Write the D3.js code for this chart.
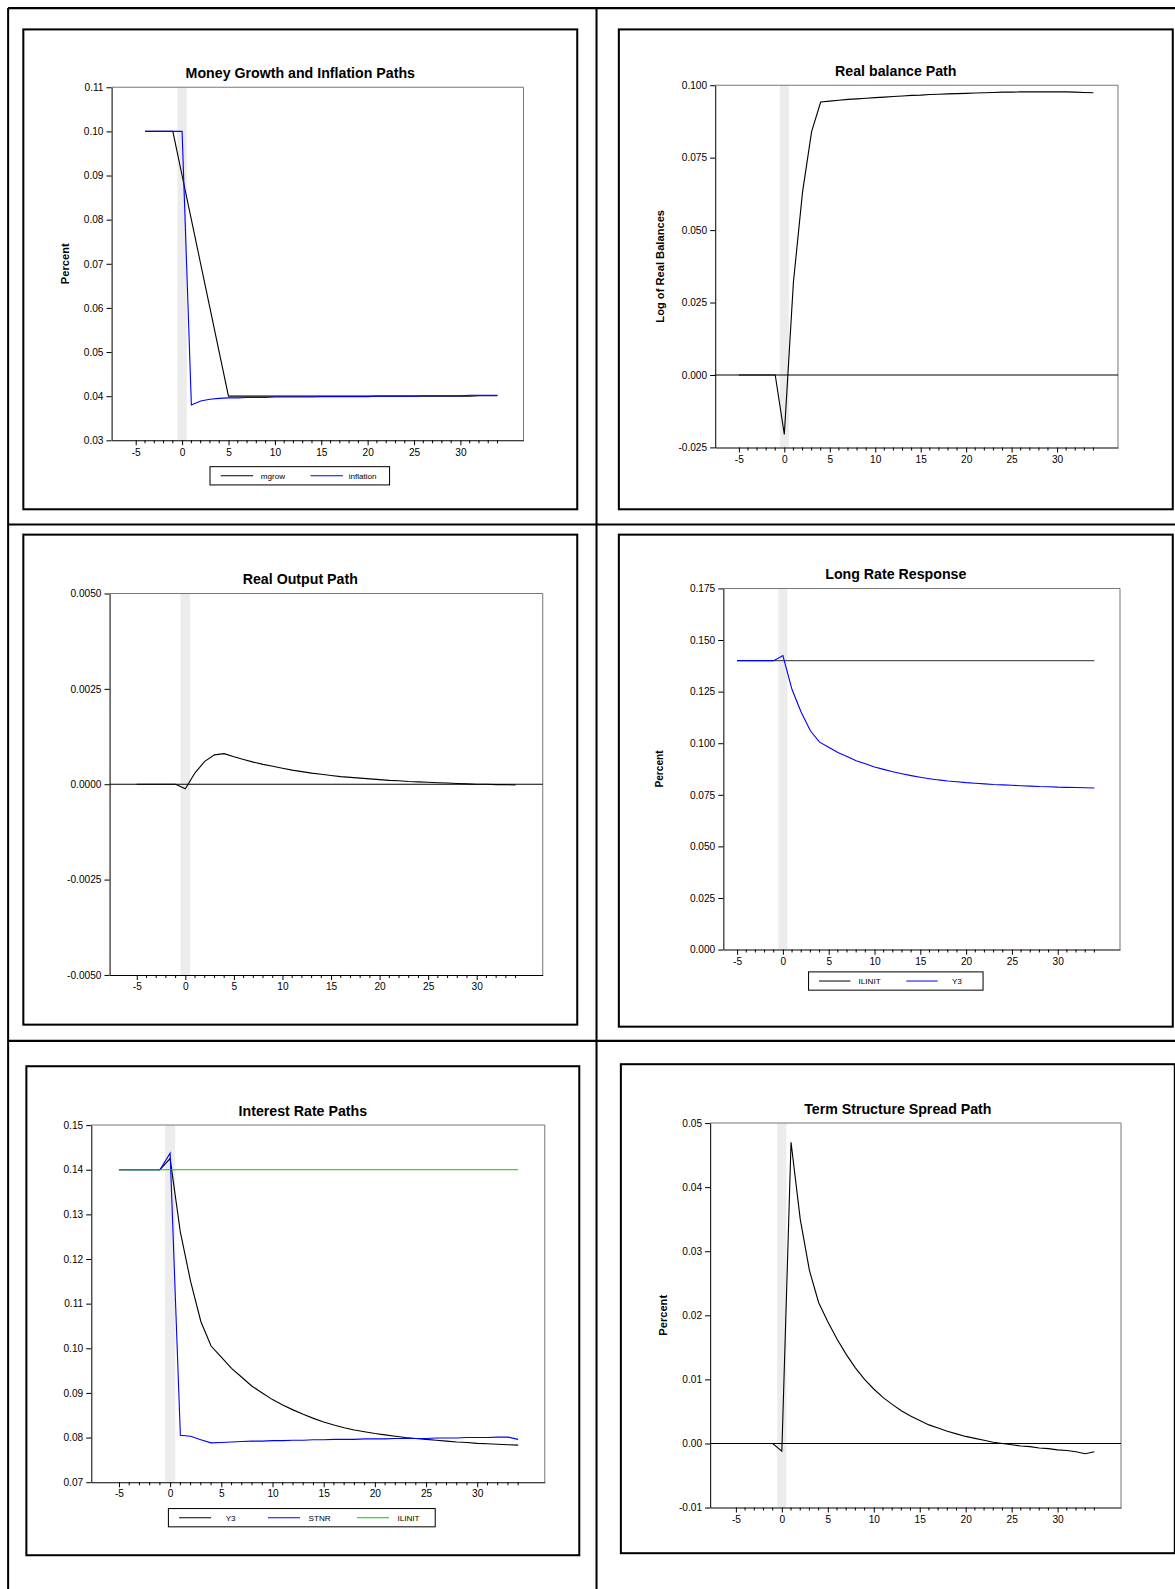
<!DOCTYPE html>
<html><head><meta charset="utf-8">
<script src="https://cdn.jsdelivr.net/npm/d3@7"></script>
<style>body{margin:0;background:#fff}text{font-family:"Liberation Sans",Arial,sans-serif}</style>
</head><body><svg id="c" width="1175" height="1589"></svg>
<script>
const tFull = d3.range(-5, 35);
const t4 = d3.range(-4, 35);
// Panel 1 (t = -4..34)
const mgrow = [0.10,0.10,0.10,0.10,0.09,0.08,0.07,0.06,0.05,0.04,0.04,0.04,0.04,0.04,0.04,0.04,0.04,0.04,0.04,0.04,0.04,0.04,0.04,0.04,0.04,0.04,0.04,0.04,0.04,0.04,0.04,0.04,0.04,0.04,0.04,0.04,0.0401,0.0401,0.0401];
const inflation = [0.10,0.10,0.10,0.10,0.10,0.0380,0.0389,0.0393,0.0395,0.0396,0.0396,0.0397,0.0397,0.0397,0.0398,0.0398,0.0398,0.0398,0.0398,0.0399,0.0399,0.0399,0.0399,0.0399,0.0399,0.0400,0.0400,0.0400,0.0400,0.0400,0.0401,0.0401,0.0401,0.0401,0.0401,0.0402,0.0402,0.0402,0.0402];
// Panel 2 (t = -5..34)
const realBal = [0,0,0,0,0,-0.0205,0.032,0.063,0.084,0.0942,0.0945,0.0948,0.0951,0.0953,0.0955,0.0957,0.0959,0.0961,0.0963,0.0965,0.0966,0.0968,0.0969,0.0970,0.0971,0.0972,0.0973,0.0974,0.0975,0.0976,0.0976,0.0977,0.0977,0.0977,0.0977,0.0977,0.0977,0.0976,0.0975,0.0974];
// Panel 3
const output = [0,0,0,0,0,-0.00012,0.0003,0.0006,0.00077,0.0008,0.00072,0.00065,0.00058,0.00052,0.00047,0.00042,0.00037,0.00033,0.00029,0.00026,0.00023,0.0002,0.00018,0.00016,0.00014,0.00012,0.0001,0.00009,0.00007,0.00006,0.00005,0.00004,0.00003,0.00002,0.00001,0,0,-0.00001,-0.00001,-0.00002];
// Panels 4/5
const ilinit = tFull.map(() => 0.14);
const y3 = [0.14,0.14,0.14,0.14,0.14,0.1425,0.126,0.115,0.106,0.1005,0.098,0.0955,0.0935,0.0915,0.0900,0.0885,0.0873,0.0862,0.0852,0.0843,0.0835,0.0828,0.0822,0.0817,0.0813,0.0809,0.0806,0.0803,0.0800,0.0798,0.0796,0.0794,0.0792,0.0790,0.0789,0.0787,0.0786,0.0785,0.0784,0.0783];
const stnr = [0.14,0.14,0.14,0.14,0.14,0.1437,0.0805,0.0803,0.0795,0.0788,0.0789,0.0790,0.0791,0.0792,0.0792,0.0793,0.0793,0.0794,0.0794,0.0795,0.0795,0.0796,0.0796,0.0796,0.0797,0.0797,0.0797,0.0798,0.0798,0.0798,0.0798,0.0799,0.0799,0.0799,0.0800,0.0800,0.0800,0.0801,0.0801,0.0796];
// Panel 6
const spread = [0,0,0,0,0,-0.0012,0.047,0.035,0.027,0.022,0.019,0.0163,0.0139,0.0118,0.0100,0.0085,0.0072,0.0061,0.0051,0.0043,0.0036,0.0029,0.0024,0.0019,0.0015,0.0011,0.0008,0.0005,0.0002,0.0000,-0.0002,-0.0004,-0.0005,-0.0007,-0.0008,-0.0010,-0.0011,-0.0013,-0.0016,-0.0013];
const xTicks = [-5,0,5,10,15,20,25,30];

const svg = d3.select("#c").append("g").attr("transform","scale(1.0145)");
[[8,8,8,1589],[588,8,588,1589],[1160,8,1160,1589],[8,8,1160,8],[8,517,1160,517],[8,1026,1160,1026]].forEach(l=>
  svg.append("line").attr("x1",l[0]).attr("y1",l[1]).attr("x2",l[2]).attr("y2",l[3]).attr("stroke","#000").attr("stroke-width",2));

const hy = f => (v => f(v).replace("−","-"));
function panel(o){
  svg.append("rect").attr("x",o.box[0]).attr("y",o.box[1]).attr("width",o.box[2]-o.box[0]).attr("height",o.box[3]-o.box[1])
    .attr("fill","none").attr("stroke","#000").attr("stroke-width",2);
  const [L,T,R,B]=o.plot;
  const x=d3.scaleLinear().domain(o.xd).range([L,R]);
  const y=d3.scaleLinear().domain(o.yd).range([B,T]);
  const g=svg.append("g");
  g.append("rect").attr("x",x(-0.5)).attr("y",T).attr("width",x(0.5)-x(-0.5)).attr("height",B-T).attr("fill","#ececec");
  g.append("line").attr("x1",L).attr("x2",R).attr("y1",T).attr("y2",T).attr("stroke","#777");
  g.append("line").attr("x1",R).attr("x2",R).attr("y1",T).attr("y2",B).attr("stroke","#777");
  if(o.zero) g.append("line").attr("x1",L).attr("x2",R).attr("y1",y(0)).attr("y2",y(0)).attr("stroke","#000");
  o.series.forEach(s=>{
    g.append("path").datum(s.v).attr("fill","none").attr("stroke",s.c).attr("stroke-width",1.1)
      .attr("d",d3.line().x((d,i)=>x(s.t[i])).y(d=>y(d)));
  });
  const ya=d3.axisLeft(y).tickValues(o.yt).tickFormat(hy(d3.format(o.yf))).tickSize(5).tickSizeOuter(0);
  g.append("g").attr("transform",`translate(${L},0)`).call(ya).call(a=>{a.select(".domain").attr("stroke","#000");a.selectAll("text").attr("font-size",10).attr("fill","#000");});
  const xa=d3.axisBottom(x).tickValues(xTicks).tickFormat(hy(d3.format("d"))).tickSize(5).tickSizeOuter(0);
  g.append("g").attr("transform",`translate(0,${B})`).call(xa).call(a=>{a.selectAll("text").attr("font-size",10).attr("fill","#000");});
  d3.range(-5,35).filter(v=>v%5!==0).forEach(v=>g.append("line").attr("x1",x(v)).attr("x2",x(v)).attr("y1",B).attr("y2",B+3).attr("stroke","#000"));
  svg.append("text").attr("x",(o.box[0]+o.box[2])/2+o.tdx).attr("y",T-9).attr("text-anchor","middle").attr("font-weight","bold").attr("font-size",14).text(o.title);
  if(o.ylab) svg.append("text").attr("transform",`translate(${o.ylabX},${(T+B)/2}) rotate(-90)`).attr("text-anchor","middle").attr("font-weight","bold").attr("font-size",o.ylabSize||11).text(o.ylab);
  if(o.legend){
    const [lx,ly,lw]=o.legend; const lh=18;
    svg.append("rect").attr("x",lx).attr("y",ly).attr("width",lw).attr("height",lh).attr("fill","#fff").attr("stroke","#000");
    const n=o.series.length, seg=lw/n;
    o.series.forEach((s,i)=>{
      const sx=lx+i*seg;
      svg.append("line").attr("x1",sx+seg*0.12).attr("x2",sx+seg*0.48).attr("y1",ly+lh/2).attr("y2",ly+lh/2).attr("stroke",s.lc||s.c);
      svg.append("text").attr("x",sx+seg*0.7).attr("y",ly+lh/2+3).attr("text-anchor","middle").attr("font-size",8).text(s.n);
    });
  }
}
panel({box:[23,29,569,502],tdx:0,plot:[110,86,516,434],xd:[-7.6,36.8],yd:[0.03,0.11],yt:[0.03,0.04,0.05,0.06,0.07,0.08,0.09,0.10,0.11],yf:".2f",
  title:"Money Growth and Inflation Paths",ylab:"Percent",ylabX:68,legend:[207,460,177],
  series:[{t:t4,v:mgrow,c:"#000",n:"mgrow"},{t:t4,v:inflation,c:"#0000ff",n:"inflation"}]});
panel({box:[610,29,1156,502],tdx:0,plot:[705,84,1102,441],xd:[-7.6,36.7],yd:[-0.025,0.1],yt:[-0.025,0,0.025,0.05,0.075,0.1],yf:".3f",
  title:"Real balance Path",ylab:"Log of Real Balances",ylabX:655,zero:true,
  series:[{t:tFull,v:realBal,c:"#000"}]});
panel({box:[23,527,569,1010],tdx:0,plot:[108,585,535,961],xd:[-7.8,36.8],yd:[-0.005,0.005],yt:[-0.005,-0.0025,0,0.0025,0.005],yf:".4f",
  title:"Real Output Path",zero:true,
  series:[{t:tFull,v:output,c:"#000"}]});
panel({box:[610,527,1156,1012],tdx:0,plot:[713,580,1104,936],xd:[-6.5,36.8],yd:[0,0.175],yt:[0,0.025,0.05,0.075,0.1,0.125,0.15,0.175],yf:".3f",
  title:"Long Rate Response",ylab:"Percent",ylabX:654,ylabSize:10,legend:[797,958,172],
  series:[{t:tFull,v:ilinit,c:"#555",lc:"#000",n:"ILINIT"},{t:tFull,v:y3,c:"#0000ff",n:"Y3"}]});
panel({box:[26,1051,571,1533],tdx:0,plot:[90,1109,537,1461],xd:[-7.7,36.6],yd:[0.07,0.15],yt:[0.07,0.08,0.09,0.10,0.11,0.12,0.13,0.14,0.15],yf:".2f",
  title:"Interest Rate Paths",legend:[166,1487,263],
  series:[{t:tFull,v:y3,c:"#000",n:"Y3"},{t:tFull,v:stnr,c:"#0000ff",n:"STNR"},{t:tFull,v:ilinit,c:"#00cc00",n:"ILINIT"}]});
panel({box:[612,1049,1158,1531],tdx:0,plot:[700,1107,1105,1486],xd:[-7.8,36.9],yd:[-0.01,0.05],yt:[-0.01,0,0.01,0.02,0.03,0.04,0.05],yf:".2f",
  title:"Term Structure Spread Path",ylab:"Percent",ylabX:657,zero:true,
  series:[{t:tFull,v:spread,c:"#000"}]});
</script></body></html>
